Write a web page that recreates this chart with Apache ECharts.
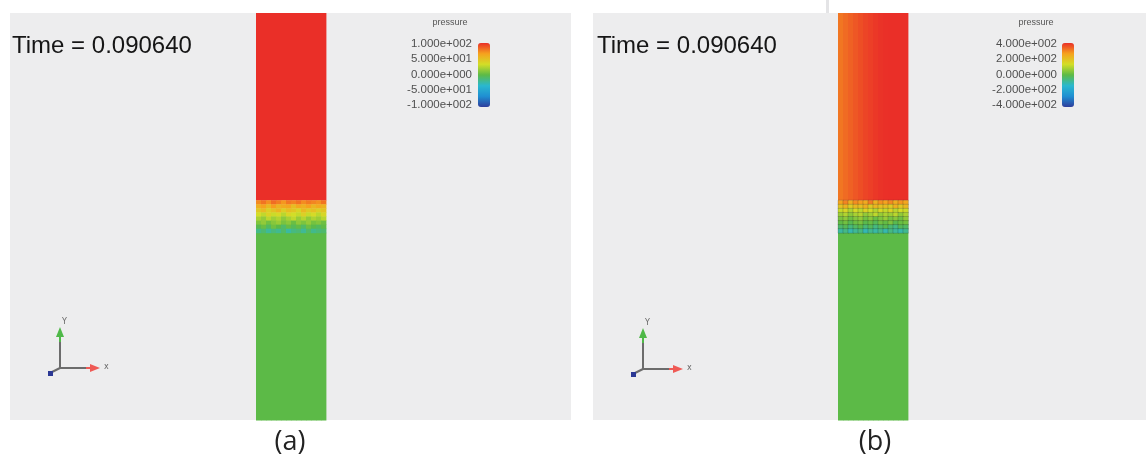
<!DOCTYPE html>
<html>
<head>
<meta charset="utf-8">
<script src="https://cdn.jsdelivr.net/npm/echarts@6/dist/echarts.min.js"></script>
<style>
html,body{margin:0;padding:0;background:#fff;}
#main{width:1146px;height:461px;}
</style>
</head>
<body>
<div id="main"></div>
<script>

// ---------------- data ----------------

// pressure range of each colour bar
const rangeA = [-100, 100];
const rangeB = [-400, 400];
const legendTicksA = [-100, -50, 0, 50, 100];
const legendTicksB = [-400, -200, 0, 200, 400];

const timeLabel = "Time = 0.090640";
const panelNames = ["(a)", "(b)"];

// column split into cells, height 0..100
const colCount = 14;
const yTop = 100;
const redFrom = 54;   // liquid above
const greenTo = 46;   // gas below

// uniform zones, one value per cell column
const redA = [100,100,100,100,100,100,100,100,100,100,100,100,100,100];
const greenA = [0,0,0,0,0,0,0,0,0,0,0,0,0,0];
const redB = [318,330,342,354,364,374,382,389,395,399,400,400,400,400];
const greenB = [0,0,0,0,0,0,0,0,0,0,0,0,0,0];

// mixing zone, rows from top (y 53) down to y 46
const mixA = [
  [74,80,72,82,77,70,79,76,81,73,78,75,72,80],
  [60,66,54,68,57,62,65,52,64,59,67,56,63,58],
  [46,53,41,49,56,43,51,47,39,54,45,50,42,48],
  [34,28,40,31,36,26,38,33,29,41,30,35,27,37],
  [22,16,27,19,24,14,21,28,17,25,15,23,18,26],
  [10,15,6,12,17,8,13,4,14,9,16,7,11,5],
  [-2,4,-6,6,0,-8,3,-4,2,-7,5,-1,-5,1],
  [-16,-10,-20,-13,-18,-8,-22,-14,-11,-19,-7,-17,-12,-9]
];
const mixB = [
  [260,300,240,290,270,250,310,235,285,265,295,245,280,255],
  [190,230,170,215,200,240,180,225,195,210,175,235,185,220],
  [120,150,95,140,110,160,130,100,145,115,155,105,135,125],
  [70,95,55,85,100,60,80,110,65,90,75,105,58,88],
  [35,55,20,45,60,25,50,15,40,65,30,48,22,58],
  [5,25,-10,18,30,-5,12,-15,22,8,35,-8,15,28],
  [-35,-15,-50,-25,-5,-45,-20,-55,-30,-10,-40,-60,-18,-28],
  [-85,-60,-100,-75,-55,-105,-70,-90,-65,-100,-58,-80,-95,-72]
];

// ---------------- build cells ----------------

function buildCells(redVals, greenVals, mixRows){
  const cells = [];
  for (let i = 0; i < colCount; i++) {
    cells.push([i, redFrom, i + 1, yTop, redVals[i]]);
    cells.push([i, 0, i + 1, greenTo, greenVals[i]]);
  }
  mixRows.forEach((row, r) => {
    const yHi = redFrom - r;
    row.forEach((v, i) => {
      cells.push([i, yHi - 1, i + 1, yHi, v]);
    });
  });
  return cells;
}

function expLabel(v){
  const s = Number(v).toExponential(3);
  const parts = s.split("e");
  const sign = parts[1][0];
  return parts[0] + "e" + sign + parts[1].slice(1).padStart(3, "0");
}

function renderCell(params, api){
  const p0 = api.coord([api.value(0), api.value(3)]);
  const p1 = api.coord([api.value(2), api.value(1)]);
  const mixing = api.value(1) >= greenTo && api.value(3) <= redFrom;
  return {
    type: "rect",
    shape: {
      x: p0[0],
      y: p0[1],
      width: p1[0] - p0[0] + 0.4,
      height: p1[1] - p0[1] + 0.4
    },
    style: {
      fill: api.visual("color"),
      stroke: mixing && params.seriesIndex === 1 ? "rgba(30,30,30,0.3)" : null,
      lineWidth: 0.6
    }
  };
}

const jet = ["#2e3d9c","#1f8fd2","#2ab8cf","#5cba47","#d3de27","#f6a21e","#ea2f28"];

// ---------------- triad graphics ----------------

function triad(ox, oy){
  return [
    { type: "line", shape: { x1: ox, y1: oy, x2: ox, y2: oy - 28 }, style: { stroke: "#6c6c6c", lineWidth: 2 } },
    { type: "line", shape: { x1: ox, y1: oy, x2: ox + 28, y2: oy }, style: { stroke: "#6c6c6c", lineWidth: 2 } },
    { type: "line", shape: { x1: ox, y1: oy - 26, x2: ox, y2: oy - 32 }, style: { stroke: "#4fb848", lineWidth: 2 } },
    { type: "polygon", shape: { points: [[ox - 4, oy - 31], [ox + 4, oy - 31], [ox, oy - 41]] }, style: { fill: "#4fb848" } },
    { type: "line", shape: { x1: ox + 26, y1: oy, x2: ox + 31, y2: oy }, style: { stroke: "#ef5a55", lineWidth: 2 } },
    { type: "polygon", shape: { points: [[ox + 30, oy - 4], [ox + 30, oy + 4], [ox + 40, oy]] }, style: { fill: "#ef5a55" } },
    { type: "line", shape: { x1: ox, y1: oy, x2: ox - 8, y2: oy + 4 }, style: { stroke: "#6c6c6c", lineWidth: 2 } },
    { type: "rect", shape: { x: ox - 12, y: oy + 3, width: 5, height: 5 }, style: { fill: "#2b3894" } },
    { type: "text", x: ox + 2, y: oy - 50, style: { text: "Y", fontSize: 8, fill: "#666", fontFamily: "DejaVu Sans" } },
    { type: "text", x: ox + 44, y: oy - 5, style: { text: "x", fontSize: 8, fill: "#666", fontFamily: "DejaVu Sans" } }
  ];
}

// ---------------- chart ----------------

const chart = echarts.init(document.getElementById("main"));

const hiddenX = (g) => ({ type: "value", gridIndex: g, min: 0, max: colCount, show: false });
const hiddenY = (g) => ({ type: "value", gridIndex: g, min: 0, max: yTop, show: false });

function legendAxis(g, range, ticks){
  return {
    type: "value",
    gridIndex: g,
    min: range[0],
    max: range[1],
    interval: ticks[1] - ticks[0],
    axisLine: { show: false },
    axisTick: { show: false },
    splitLine: { show: false },
    axisLabel: {
      margin: 5,
      color: "#4f4f4f",
      fontSize: 11.5,
      fontFamily: "Liberation Sans, Arial",
      formatter: expLabel
    }
  };
}

chart.setOption({
  animation: false,
  backgroundColor: "#ffffff",

  grid: [
    { left: 256, top: 13, width: 70, height: 407 },
    { left: 838, top: 13, width: 70, height: 407 },
    { left: 477, top: 44, width: 10, height: 61 },
    { left: 1062, top: 44, width: 10, height: 61 }
  ],

  xAxis: [hiddenX(0), hiddenX(1),
    { type: "value", gridIndex: 2, show: false },
    { type: "value", gridIndex: 3, show: false }],

  yAxis: [hiddenY(0), hiddenY(1),
    legendAxis(2, rangeA, legendTicksA),
    legendAxis(3, rangeB, legendTicksB)],

  visualMap: [
    {
      type: "continuous", seriesIndex: 0, dimension: 4,
      min: rangeA[0], max: rangeA[1],
      left: 478, top: 43, padding: 0,
      itemWidth: 12, itemHeight: 64,
      calculable: false, text: null, hoverLink: false,
      inRange: { color: jet }
    },
    {
      type: "continuous", seriesIndex: 1, dimension: 4,
      min: rangeB[0], max: rangeB[1],
      left: 1062, top: 43, padding: 0,
      itemWidth: 12, itemHeight: 64,
      calculable: false, text: null, hoverLink: false,
      inRange: { color: jet }
    }
  ],

  series: [
    {
      name: "pressure a",
      type: "custom",
      xAxisIndex: 0, yAxisIndex: 0,
      renderItem: renderCell,
      encode: { x: [0, 2], y: [1, 3] },
      data: buildCells(redA, greenA, mixA),
      z: 3
    },
    {
      name: "pressure b",
      type: "custom",
      xAxisIndex: 1, yAxisIndex: 1,
      renderItem: renderCell,
      encode: { x: [0, 2], y: [1, 3] },
      data: buildCells(redB, greenB, mixB),
      z: 3
    }
  ],

  graphic: [
    { type: "rect", z: -10, shape: { x: 10, y: 13, width: 561, height: 407 }, style: { fill: "#ededee" } },
    { type: "rect", z: -10, shape: { x: 593, y: 13, width: 553, height: 407 }, style: { fill: "#ededee" } },
    { type: "rect", z: -10, shape: { x: 826, y: 0, width: 3, height: 13 }, style: { fill: "#e4e4e6" } },

    { type: "text", x: 12, y: 34, style: { text: timeLabel, fontSize: 24, fill: "#161616", fontFamily: "Liberation Sans, Arial" } },
    { type: "text", x: 597, y: 34, style: { text: timeLabel, fontSize: 24, fill: "#161616", fontFamily: "Liberation Sans, Arial" } },

    { type: "text", x: 450, y: 23, style: { text: "pressure", fontSize: 9, fill: "#555", align: "center", verticalAlign: "middle", fontFamily: "Liberation Sans, Arial" } },
    { type: "text", x: 1036, y: 23, style: { text: "pressure", fontSize: 9, fill: "#555", align: "center", verticalAlign: "middle", fontFamily: "Liberation Sans, Arial" } },

    { type: "text", x: 290, y: 442, style: { text: panelNames[0], fontSize: 27, fill: "#222", align: "center", verticalAlign: "middle", fontFamily: "Open Sans" } },
    { type: "text", x: 875, y: 442, style: { text: panelNames[1], fontSize: 27, fill: "#222", align: "center", verticalAlign: "middle", fontFamily: "Open Sans" } }
  ].concat(triad(60, 368), triad(643, 369))
});

window.addEventListener("resize", () => chart.resize());

</script>
</body>
</html>
